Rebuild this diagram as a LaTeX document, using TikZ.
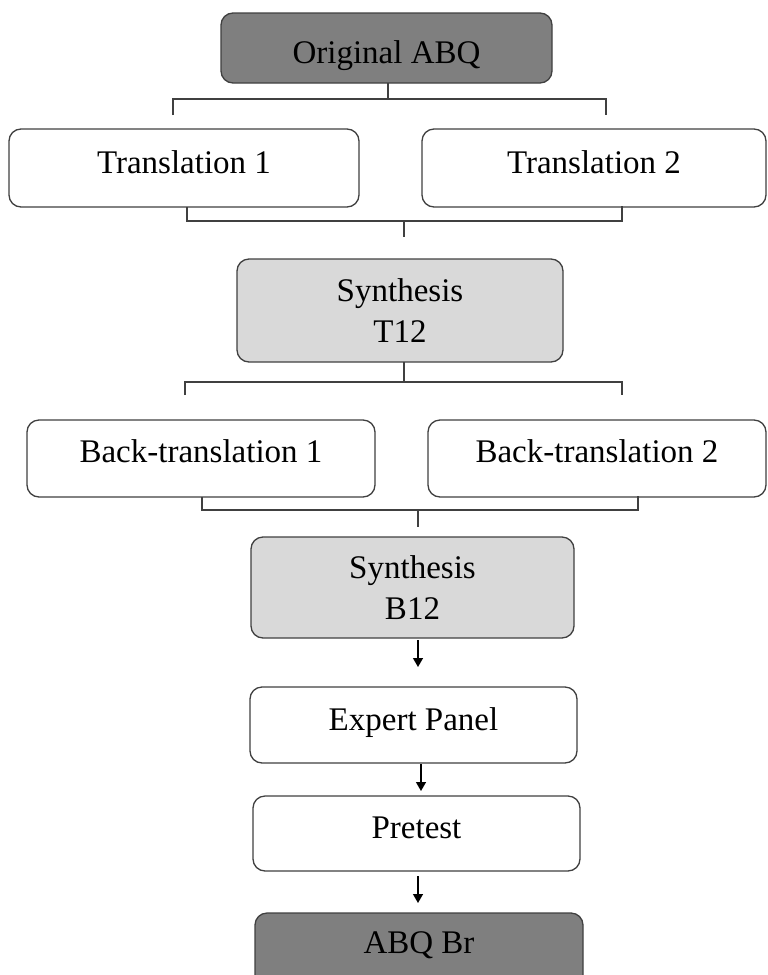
\documentclass[tikz,border=0pt]{standalone}
\usepackage{fontspec}
\setmainfont{Liberation Serif}
\usetikzlibrary{arrows.meta}
\definecolor{darkfill}{HTML}{7F7F7F}
\definecolor{lightfill}{HTML}{D9D9D9}
\definecolor{edge}{HTML}{404040}
\begin{document}
\begin{tikzpicture}[x=1pt,y=-1pt,
  box/.style={draw=edge, line width=1.3pt, rounded corners=12pt, fill=white,
    inner xsep=0pt, inner ysep=0pt, font=\fontsize{33}{41}\selectfont, align=center},
  conn/.style={draw=edge, line width=1.4pt},
  arr/.style={draw=black, line width=1.3pt, -{Triangle[length=9pt,width=10pt]}}]
\useasboundingbox (0,0) rectangle (768,975);

% nodes
\node[box, fill=darkfill, minimum width=331pt, text height=50pt, text depth=20pt] (orig) at (386.5,48) {Original ABQ};
\node[box, minimum width=350pt, text height=44pt, text depth=34pt] (t1) at (184,168) {Translation 1};
\node[box, minimum width=344pt, text height=44pt, text depth=34pt] (t2) at (594,168) {Translation 2};
\node[box, fill=lightfill, minimum width=326pt, minimum height=103pt] (s1) at (400,310.5) {Synthesis\\T12};
\node[box, minimum width=348pt, text height=42pt, text depth=35pt] (bt1) at (201,458.5) {Back-translation 1};
\node[box, minimum width=338pt, text height=42pt, text depth=35pt] (bt2) at (597,458.5) {Back-translation 2};
\node[box, fill=lightfill, minimum width=323pt, minimum height=101pt] (s2) at (412.5,587.5) {Synthesis\\B12};
\node[box, minimum width=327pt, text height=43pt, text depth=33pt] (ep) at (413.5,725) {Expert Panel};
\node[box, minimum width=327pt, text height=42pt, text depth=33pt] (pt) at (416.5,833.5) {Pretest};
\node[box, fill=darkfill, minimum width=328pt, text height=40pt, text depth=37pt] (br) at (419,951.5) {ABQ Br};

% bracket 1
\coordinate (b1) at (388,99);
\coordinate (b1s) at (388,83);
\coordinate (b1l) at (173,115);
\coordinate (b1r) at (606,115);
\draw[conn] (b1s) -- (b1);
\draw[conn] (b1l) |- (b1) -| (b1r);

% bracket 2
\coordinate (b2l) at (187,207);
\coordinate (b2r) at (622,206);
\coordinate (b2) at (404,221);
\coordinate (b2e) at (404,237);
\draw[conn] (b2l) |- (b2) -| (b2r);
\draw[conn] (b2) -- (b2e);

% bracket 3
\coordinate (b3s) at (404,362);
\coordinate (b3) at (404,382);
\coordinate (b3l) at (185,395);
\coordinate (b3r) at (622,395);
\draw[conn] (b3s) -- (b3);
\draw[conn] (b3l) |- (b3) -| (b3r);

% bracket 4
\coordinate (b4l) at (202,497);
\coordinate (b4r) at (638,496);
\coordinate (b4) at (418,510);
\coordinate (b4e) at (418,527);
\draw[conn] (b4l) |- (b4) -| (b4r);
\draw[conn] (b4) -- (b4e);

% arrows
\coordinate (a1s) at (418,640);
\coordinate (a1e) at (418,667);
\coordinate (a2s) at (421,764);
\coordinate (a2e) at (421,791);
\coordinate (a3s) at (418,876);
\coordinate (a3e) at (418,903);
\draw[arr] (a1s) -- (a1e);
\draw[arr] (a2s) -- (a2e);
\draw[arr] (a3s) -- (a3e);
\end{tikzpicture}
\end{document}
